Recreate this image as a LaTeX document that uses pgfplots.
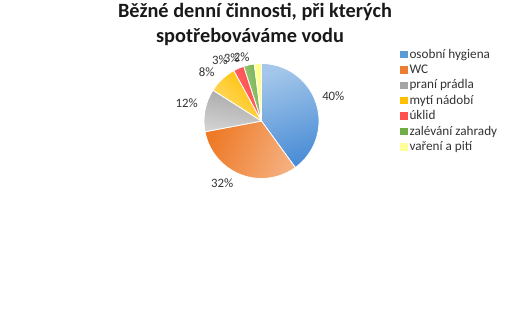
\documentclass[border=0pt]{standalone}
\usepackage{pgfplots}
\pgfplotsset{compat=1.18}
\usepackage{pgfplotstable}
\usepackage{fontspec}
\setmainfont{Carlito}

\definecolor{sl0}{HTML}{A3C6EA}\definecolor{sd0}{HTML}{4A8DD6}
\definecolor{sl1}{HTML}{F5B080}\definecolor{sd1}{HTML}{EE7A27}
\definecolor{sl2}{HTML}{D2D2D2}\definecolor{sd2}{HTML}{A8A8A8}
\definecolor{sl3}{HTML}{FFDB6E}\definecolor{sd3}{HTML}{FFC000}
\definecolor{sl4}{HTML}{FF7272}\definecolor{sd4}{HTML}{FF4545}
\definecolor{sl5}{HTML}{A9D18E}\definecolor{sd5}{HTML}{70AD47}
\definecolor{sl6}{HTML}{FFFFA8}\definecolor{sd6}{HTML}{FFFF80}

\definecolor{lg0}{HTML}{5B9BD5}
\definecolor{lg1}{HTML}{ED7D31}
\definecolor{lg2}{HTML}{A5A5A5}
\definecolor{lg3}{HTML}{FFC000}
\definecolor{lg4}{HTML}{FF5050}
\definecolor{lg5}{HTML}{70AD47}
\definecolor{lg6}{HTML}{FFFF99}

\pgfplotstableread{
value lx ly
40 1.249 0.435
32 -0.682 -1.083
12 -1.301 0.308
8 -0.953 0.857
3 -0.722 1.052
3 -0.518 1.090
2 -0.344 1.118
}\piedata

\begin{document}
\begin{tikzpicture}
\path[use as bounding box] (0bp,0bp) rectangle (522bp,-312bp);
\node[font=\fontsize{20.3bp}{24bp}\selectfont\bfseries, anchor=base, text=black!90] at (255bp,-17bp) {Běžné denní činnosti, při kterých};
\node[font=\fontsize{20.3bp}{24bp}\selectfont\bfseries, anchor=base, text=black!90] at (250bp,-42.7bp) {spotřebováváme vodu};
\begin{axis}[
  at={(261.5bp,-121bp)}, anchor=origin,
  x=57.5bp, y=57.5bp,
  xmin=-1, xmax=1, ymin=-1, ymax=1,
  hide axis, clip=false,
  legend image code/.code={\fill[#1,draw=none] (0bp,-3.3bp) rectangle (7.8bp,4bp);},
  legend style={at={(axis cs:2.409,1.287)}, anchor=north west, draw=none, fill=none,
    font=\fontsize{13.2bp}{15bp}\selectfont, inner sep=0pt, row sep=0pt,
    nodes={font=\fontsize{13.2bp}{15bp}\selectfont, text=black!80, inner sep=1.5bp, text height=9.4bp, text depth=3bp},
    /tikz/every even column/.append style={column sep=0pt}},
  legend cell align=left,
]
\def\cum{0}
\pgfplotstablegetrowsof{\piedata}
\pgfmathtruncatemacro\nrows{\pgfplotsretval-1}
\pgfplotsforeachungrouped \i in {0,...,\nrows}{
  \pgfplotstablegetelem{\i}{value}\of\piedata \let\v\pgfplotsretval
  \pgfplotstablegetelem{\i}{lx}\of\piedata \let\lx\pgfplotsretval
  \pgfplotstablegetelem{\i}{ly}\of\piedata \let\ly\pgfplotsretval
  \pgfmathsetmacro\s{90-3.6*\cum}
  \pgfmathsetmacro\e{90-3.6*(\cum+\v)}
  \pgfmathsetmacro\dlt{atan2(sin(\e)-sin(\s),cos(\e)-cos(\s))}
  \pgfmathsetmacro\phi{\dlt-90}
  \pgfmathsetmacro\cs{cos(\s)}
  \pgfmathsetmacro\ss{sin(\s)}
  \edef\cmd{\noexpand\shade[bottom color=sl\i, top color=sd\i, shading angle=\phi, draw=white, line width=0.8bp, line join=round]
     (axis cs:0,0) -- (axis cs:\cs,\ss) arc[start angle=\s, end angle=\e, radius=57.5bp] -- cycle;
     \noexpand\node[font=\noexpand\fontsize{12.8bp}{14bp}\noexpand\selectfont, text=black!80, inner sep=0pt] at (axis cs:\lx,\ly) {\v\noexpand\%};}
  \cmd
  \pgfmathsetmacro\cum{\cum+\v}
}
\addlegendimage{fill=lg0}\addlegendentry{osobní hygiena}
\addlegendimage{fill=lg1}\addlegendentry{WC}
\addlegendimage{fill=lg2}\addlegendentry{praní prádla}
\addlegendimage{fill=lg3}\addlegendentry{mytí nádobí}
\addlegendimage{fill=lg4}\addlegendentry{úklid}
\addlegendimage{fill=lg5}\addlegendentry{zalévání zahrady}
\addlegendimage{fill=lg6}\addlegendentry{vaření a pití}
\end{axis}
\end{tikzpicture}
\end{document}
